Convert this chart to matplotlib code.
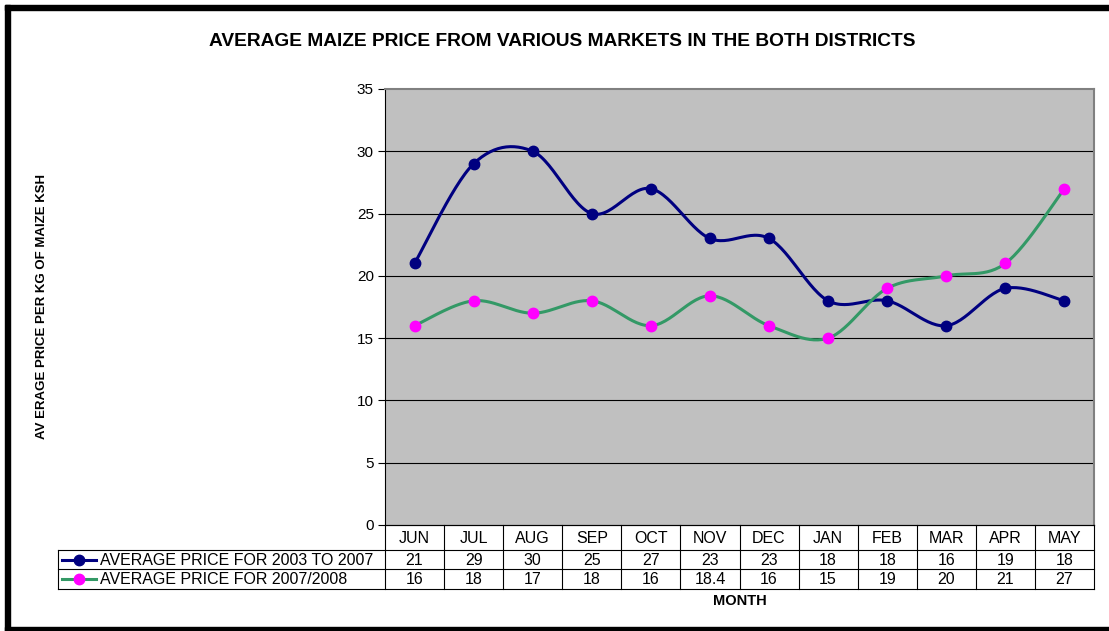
import matplotlib
matplotlib.use("Agg")

import numpy as np
import matplotlib.pyplot as plt
from matplotlib.patches import Rectangle

months = ["JUN", "JUL", "AUG", "SEP", "OCT", "NOV", "DEC", "JAN", "FEB", "MAR", "APR", "MAY"]
avg_2003_2007 = [21, 29, 30, 25, 27, 23, 23, 18, 18, 16, 19, 18]
avg_2007_2008 = [16, 18, 17, 18, 16, 18.4, 16, 15, 19, 20, 21, 27]
series_names = ["AVERAGE PRICE FOR 2003 TO 2007", "AVERAGE PRICE FOR 2007/2008"]
y_ticks = [0, 5, 10, 15, 20, 25, 30, 35]

W, H = 1109, 631
FONT = ["Liberation Sans", "DejaVu Sans"]
plt.rcParams["font.family"] = FONT

NAVY = "#000080"
GREEN = "#339966"
MAGENTA = "#FF00FF"


def smooth(xs, ys, n=30):
    # Excel-like smoothed line: Bezier segments with Catmull-Rom control points
    p = np.column_stack([xs, ys]).astype(float)
    p = np.vstack([p[0], p, p[-1]])
    out = []
    t = np.linspace(0, 1, n)[:, None]
    for i in range(1, len(p) - 2):
        p0, p1, p2, p3 = p[i - 1], p[i], p[i + 1], p[i + 2]
        c1 = p1 + (p2 - p0) / 6
        c2 = p2 - (p3 - p1) / 6
        seg = ((1 - t) ** 3) * p1 + 3 * ((1 - t) ** 2) * t * c1 + 3 * (1 - t) * t ** 2 * c2 + t ** 3 * p2
        out.append(seg)
    seg = np.vstack(out)
    return seg[:, 0], seg[:, 1]


fig = plt.figure(figsize=(W / 100, H / 100), dpi=100)

# plot area in pixel bounds
L, R, T, B = 385, 1094, 89, 525
ax = fig.add_axes([L / W, 1 - B / H, (R - L) / W, (B - T) / H])
ax.set_facecolor("#C0C0C0")
x = np.arange(len(months))
ax.set_xlim(-0.5, len(months) - 0.5)
ax.set_ylim(0, 35)
ax.set_yticks(y_ticks)
ax.set_yticklabels([str(v) for v in y_ticks], fontsize=11)
ax.tick_params(axis="y", length=5, width=0.8, color="black", pad=3)
ax.set_xticks([])
for v in y_ticks[1:-1]:
    ax.axhline(v, color="black", lw=0.8, zorder=1)
for s in ["top", "right"]:
    ax.spines[s].set_color("#808080")
    ax.spines[s].set_linewidth(1.5)
ax.spines["left"].set_color("black")
ax.spines["bottom"].set_color("black")

sx, sy = smooth(x, avg_2003_2007)
ax.plot(sx, sy, color=NAVY, lw=2.2, zorder=3, solid_capstyle="round")
ax.plot(x, avg_2003_2007, "o", color=NAVY, ms=7.5, zorder=4)
sx, sy = smooth(x, avg_2007_2008)
ax.plot(sx, sy, color=GREEN, lw=2.2, zorder=3, solid_capstyle="round")
ax.plot(x, avg_2007_2008, "o", color=MAGENTA, ms=7.5, zorder=4)

# overlay in pixel coordinates for frame, table and labels
ov = fig.add_axes([0, 0, 1, 1], zorder=-1)
ov.set_xlim(0, W)
ov.set_ylim(H, 0)
ov.axis("off")

# thick black frame (top, left, bottom)
ov.add_patch(Rectangle((5, 5), W - 5, 5, color="black"))
ov.add_patch(Rectangle((5, 5), 5, H - 5, color="black"))
ov.add_patch(Rectangle((5, 627), W - 5, 5, color="black"))

fig.text(562 / W, 1 - 42 / H, "AVERAGE MAIZE PRICE FROM VARIOUS MARKETS IN THE BOTH DISTRICTS",
         ha="center", va="center", fontsize=13.8, fontweight="bold")
fig.text(42 / W, 1 - 307 / H, "AV ERAGE PRICE PER KG OF MAIZE KSH",
         ha="center", va="center", rotation=90, fontsize=9.5, fontweight="bold",
         family=["Liberation Sans Narrow", "Liberation Sans", "DejaVu Sans"])
fig.text(740 / W, 1 - 601 / H, "MONTH", ha="center", va="center", fontsize=10.5, fontweight="bold")

# data table
tab_ax = fig.add_axes([0, 0, 1, 1], zorder=5)
tab_ax.set_xlim(0, W)
tab_ax.set_ylim(H, 0)
tab_ax.axis("off")
row_y = [525, 550, 569, 589]
leg_left = 58
cw = (R - L) / len(months)
lk = dict(color="black", lw=0.8)
tab_ax.plot([L, R], [row_y[0], row_y[0]], **lk)
for yy in row_y[1:]:
    tab_ax.plot([leg_left, R], [yy, yy], **lk)
for k in range(len(months) + 1):
    tab_ax.plot([L + k * cw] * 2, [row_y[0], row_y[-1]], **lk)
tab_ax.plot([leg_left, leg_left], [row_y[1], row_y[-1]], **lk)

fs = 11.5
for k, m in enumerate(months):
    cx = L + (k + 0.5) * cw
    tab_ax.text(cx, (row_y[0] + row_y[1]) / 2 + 1, m, ha="center", va="center", fontsize=fs)
    tab_ax.text(cx, (row_y[1] + row_y[2]) / 2 + 1, f"{avg_2003_2007[k]:g}", ha="center", va="center", fontsize=fs)
    tab_ax.text(cx, (row_y[2] + row_y[3]) / 2 + 1, f"{avg_2007_2008[k]:g}", ha="center", va="center", fontsize=fs)

for r, (name, lc, mc) in enumerate(zip(series_names, [NAVY, GREEN], [NAVY, MAGENTA])):
    cy = (row_y[r + 1] + row_y[r + 2]) / 2
    tab_ax.plot([62, 96], [cy, cy], color=lc, lw=2.2)
    tab_ax.plot([79], [cy], "o", color=mc, ms=7.5)
    tab_ax.text(100, cy + 1, name, ha="left", va="center", fontsize=fs)

fig.savefig("out.png", dpi=100)
